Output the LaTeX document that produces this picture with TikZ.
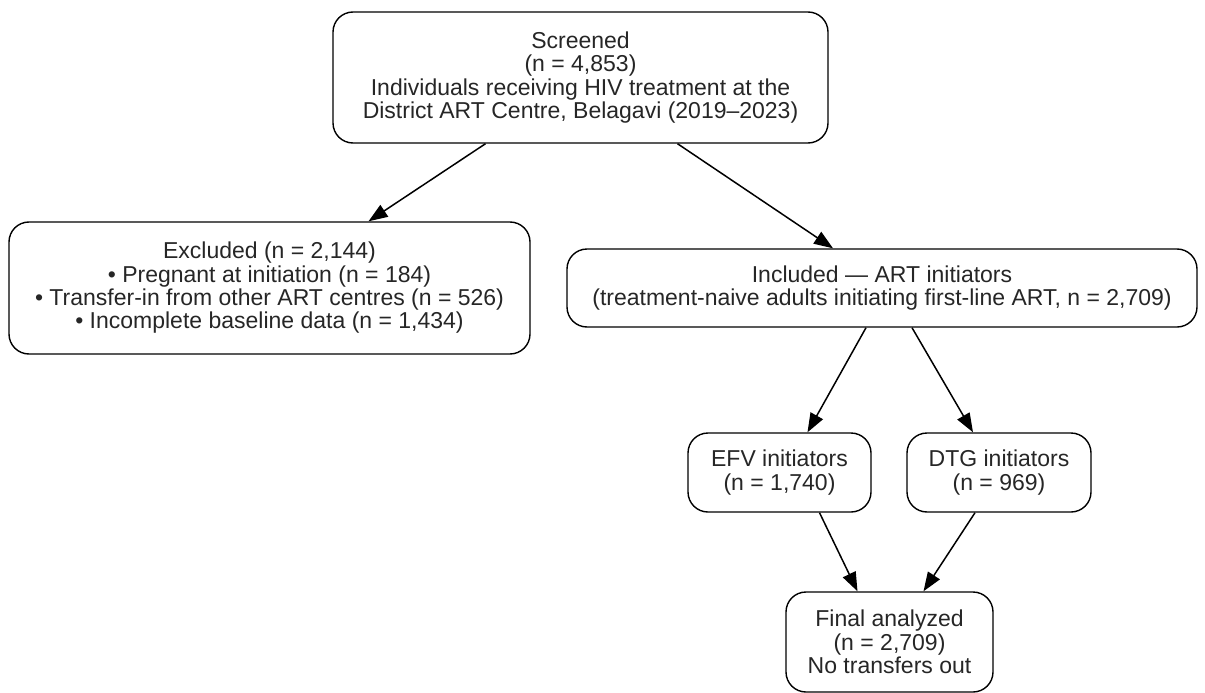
\documentclass[tikz,border=0pt]{standalone}
\usepackage{fontspec}
\setmainfont{Liberation Sans}
\usetikzlibrary{arrows.meta}
\begin{document}
\begin{tikzpicture}[x=1pt,y=-1pt,
  box/.style={draw, line width=1.4pt, rounded corners=20pt, align=center, inner sep=0pt,
    font=\fontsize{23}{23.3}\selectfont, text=black!85},
  conn/.style={line width=1.5pt, -{Triangle[length=19pt,width=14pt]}}]
\useasboundingbox (0,0) rectangle (1205,693);
\node[box, minimum width=495pt, minimum height=131pt] (scr) at (580.5,77.5)
  {Screened\\(n = 4,853)\\Individuals receiving HIV treatment at the\\District ART Centre, Belagavi (2019–2023)};
\node[box, minimum width=521pt, minimum height=132pt] (exc) at (269.5,288)
  {Excluded (n = 2,144)\\• Pregnant at initiation (n = 184)\\• Transfer-in from other ART centres (n = 526)\\• Incomplete baseline data (n = 1,434)};
\node[box, minimum width=630pt, minimum height=78pt] (inc) at (882,288)
  {Included — ART initiators\\(treatment-naive adults initiating first-line ART, n = 2,709)};
\node[box, minimum width=183pt, minimum height=79pt] (efv) at (779.5,472.5)
  {EFV initiators\\(n = 1,740)};
\node[box, minimum width=184pt, minimum height=79pt] (dtg) at (999,472.5)
  {DTG initiators\\(n = 969)};
\node[box, minimum width=207pt, minimum height=100pt] (fin) at (889.5,642)
  {Final analyzed\\(n = 2,709)\\No transfers out};
\draw[conn] ([xshift=-95pt]scr.south) -- ([xshift=99pt]exc.north);
\draw[conn] ([xshift=97pt]scr.south) -- ([xshift=-49pt]inc.north);
\draw[conn] ([xshift=-16pt]inc.south) -- ([xshift=28pt]efv.north);
\draw[conn] ([xshift=30pt]inc.south) -- ([xshift=-26pt]dtg.north);
\draw[conn] ([xshift=40pt]efv.south) -- ([xshift=-32pt]fin.north);
\draw[conn] ([xshift=-24pt]dtg.south) -- ([xshift=34pt]fin.north);
\end{tikzpicture}
\end{document}
